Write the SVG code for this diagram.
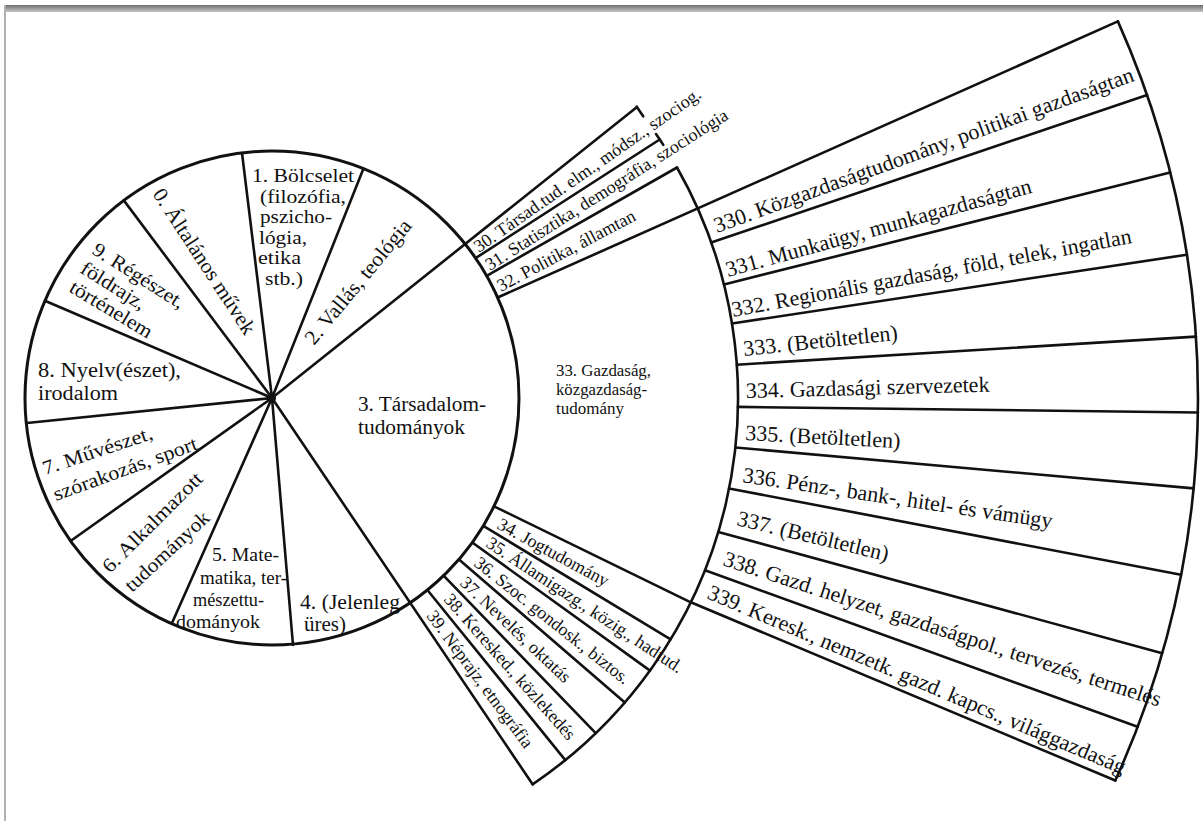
<svg xmlns="http://www.w3.org/2000/svg" width="1203" height="821" viewBox="0 0 1203 821">
<defs>
<linearGradient id="bar" x1="0" y1="0" x2="0" y2="1">
<stop offset="0" stop-color="#6f6f6f"/>
<stop offset="1" stop-color="#c4c4c4"/>
</linearGradient>
</defs>
<style>
.ln{fill:none;stroke:#111;stroke-width:2.6;stroke-linecap:round;stroke-linejoin:round}
.cir{fill:none;stroke:#111;stroke-width:3}
text{font-family:"Liberation Serif","Times New Roman",serif;fill:#111}
.c{font-size:21px}
.cb{font-size:18.5px}
.c2{font-size:20px}
.c5{font-size:18px}
.m{font-size:18px}
.g{font-size:16px}
.r{font-size:22px}
</style>
<rect x="0" y="0" width="1203" height="821" fill="#fff"/>
<rect x="4" y="5" width="1199" height="7" fill="url(#bar)"/>
<rect x="4" y="5" width="2" height="816" fill="#b0b0b0"/>

<g id="connectors">
<circle class="cir" cx="272" cy="398" r="247"/>
<path class="ln" d="M272,398 L242,153 M272,398 L363.5,168.6 M272,398 L637,107 M272,398 L532.6,784.3 M272,398 L293,645 M272,398 L172,623 M272,398 L72,540 M272,398 L27,423 M272,398 L44.9,300.7 M272,398 L123.8,200.4"/>
<circle cx="272" cy="398" r="4" fill="#111"/>
<path class="ln" d="M475.6,258.1 L659.7,139.5 M486.7,275.8 L677,167.5 M497.6,297.5 L1117.9,21.4 M494,506.3 L690.8,602.3 L1115.3,780.5 M483.3,525.9 L670.6,639.4 M472.3,542.5 L650,670.6 M459,559.4 L624.8,702.5 M443.6,575.7 L595.7,733.2 M427.4,590 L565.3,760.1"/>
<path class="ln" d="M677,167.5 A466 466 0 0 1 532.6,784.3"/>
<path class="ln" d="M636.7,106.7 A466 466 0 0 1 643.2,116.3 M656,134.1 A466 466 0 0 1 663.3,144.9"/>
<path class="ln" d="M1117.9,21.4 A926 926 0 0 1 1115.3,780.5"/>
<path class="ln" d="M711.2,242.5 L1147.1,95 M724,284.5 L1170.1,172.4 M732,323.5 L1186.9,254.7 M736.8,364.7 L1196,336.6 M737.9,406.9 L1197.9,412.5 M735.3,447.5 L1193.6,488.4 M729.1,488.5 L1181,574.7 M718.3,531.9 L1162.2,653.2 M705,570.3 L1137.6,726.8"/>
</g>

<g id="n0"><text class="c" transform="translate(152,194) rotate(56.8)" textLength="170" lengthAdjust="spacingAndGlyphs">0. Általános művek</text></g>
<g id="n1">
<text class="cb" x="252" y="182" textLength="102" lengthAdjust="spacingAndGlyphs">1. Bölcselet</text>
<text class="cb" x="260" y="202.5" textLength="86" lengthAdjust="spacingAndGlyphs">(filozófia,</text>
<text class="cb" x="260" y="223" textLength="72" lengthAdjust="spacingAndGlyphs">pszicho-</text>
<text class="cb" x="259" y="243.5" textLength="48" lengthAdjust="spacingAndGlyphs">lógia,</text>
<text class="cb" x="258" y="264" textLength="43" lengthAdjust="spacingAndGlyphs">etika</text>
<text class="cb" x="265" y="284.5" textLength="38" lengthAdjust="spacingAndGlyphs">stb.)</text>
</g>
<g id="n2"><text class="c" transform="translate(314,346) rotate(-50.5)" textLength="155" lengthAdjust="spacingAndGlyphs">2. Vallás, teológia</text></g>
<g id="n3">
<text class="c2" x="358" y="411" textLength="128" lengthAdjust="spacingAndGlyphs">3. Társadalom-</text>
<text class="c2" x="358" y="434" textLength="107" lengthAdjust="spacingAndGlyphs">tudományok</text>
</g>
<g id="n4">
<text class="c2" x="300" y="609" textLength="100" lengthAdjust="spacingAndGlyphs">4. (Jelenleg</text>
<text class="c2" x="304" y="631" textLength="42" lengthAdjust="spacingAndGlyphs">üres)</text>
</g>
<g id="n5">
<text class="c5" x="212" y="561" textLength="67" lengthAdjust="spacingAndGlyphs">5. Mate-</text>
<text class="c5" x="200" y="584" textLength="87" lengthAdjust="spacingAndGlyphs">matika, ter-</text>
<text class="c5" x="193" y="606" textLength="71" lengthAdjust="spacingAndGlyphs">mészettu-</text>
<text class="c5" x="176" y="628" textLength="84" lengthAdjust="spacingAndGlyphs">dományok</text>
</g>
<g id="n6">
<text class="c2" transform="translate(110,574) rotate(-45)" textLength="133" lengthAdjust="spacingAndGlyphs">6. Alkalmazott</text>
<text class="c2" transform="translate(132,593) rotate(-43)" textLength="108" lengthAdjust="spacingAndGlyphs">tudományok</text>
</g>
<g id="n7">
<text class="c2" transform="translate(45,475) rotate(-18.5)" textLength="115" lengthAdjust="spacingAndGlyphs">7. Művészet,</text>
<text class="c2" transform="translate(56,501) rotate(-20)" textLength="152" lengthAdjust="spacingAndGlyphs">szórakozás, sport</text>
</g>
<g id="n8">
<text class="c2" x="38" y="377" textLength="143" lengthAdjust="spacingAndGlyphs">8. Nyelv(észet),</text>
<text class="c2" x="38" y="400" textLength="80" lengthAdjust="spacingAndGlyphs">irodalom</text>
</g>
<g id="n9">
<text class="c2" transform="translate(91,253) rotate(32.5)" textLength="105" lengthAdjust="spacingAndGlyphs">9. Régészet,</text>
<text class="c2" transform="translate(79,272) rotate(32)" textLength="73" lengthAdjust="spacingAndGlyphs">földrajz,</text>
<text class="c2" transform="translate(68,291) rotate(31)" textLength="93" lengthAdjust="spacingAndGlyphs">történelem</text>
</g>

<g id="n30"><text class="m" transform="translate(479,253) rotate(-35)">30. Társad.tud. elm., módsz., szociog.</text></g>
<g id="n31"><text class="m" transform="translate(490,271) rotate(-32.5)">31. Statisztika, demográfia, szociológia</text></g>
<g id="n32"><text class="m" transform="translate(501,292) rotate(-28)">32. Politika, államtan</text></g>
<g id="n33">
<text class="g" x="556" y="376" textLength="95" lengthAdjust="spacingAndGlyphs">33. Gazdaság,</text>
<text class="g" x="556" y="395" textLength="91" lengthAdjust="spacingAndGlyphs">közgazdaság-</text>
<text class="g" x="556" y="414" textLength="68" lengthAdjust="spacingAndGlyphs">tudomány</text>
</g>
<g id="n34"><text class="m" transform="translate(496,528) rotate(28.5)">34. Jogtudomány</text></g>
<g id="n35"><text class="m" transform="translate(485,546) rotate(33.5)">35. Államigazg., közig., hadtud.</text></g>
<g id="n36"><text class="m" transform="translate(473,565) rotate(38.5)">36. Szoc. gondosk., biztos.</text></g>
<g id="n37"><text class="m" transform="translate(459,584) rotate(43.5)">37. Nevelés, oktatás</text></g>
<g id="n38"><text class="m" transform="translate(443,600) rotate(48.5)">38. Keresked., közlekedés</text></g>
<g id="n39"><text class="m" transform="translate(426,616) rotate(53.5)">39. Néprajz, etnográfia</text></g>

<g id="n330"><text class="r" transform="translate(717,233) rotate(-20)">330. Közgazdaságtudomány, politikai gazdaságtan</text></g>
<g id="n331"><text class="r" transform="translate(728,277) rotate(-15.5)">331. Munkaügy, munkagazdaságtan</text></g>
<g id="n332"><text class="r" transform="translate(733,317) rotate(-10.5)">332. Regionális gazdaság, föld, telek, ingatlan</text></g>
<g id="n333"><text class="r" transform="translate(744,356) rotate(-6)">333. (Betöltetlen)</text></g>
<g id="n334"><text class="r" transform="translate(746,398) rotate(-1.5)">334. Gazdasági szervezetek</text></g>
<g id="n335"><text class="r" transform="translate(745,440) rotate(3)">335. (Betöltetlen)</text></g>
<g id="n336"><text class="r" transform="translate(742,482) rotate(8.5)">336. Pénz-, bank-, hitel- és vámügy</text></g>
<g id="n337"><text class="r" transform="translate(736,525) rotate(13.5)">337. (Betöltetlen)</text></g>
<g id="n338"><text class="r" transform="translate(722,565) rotate(18)">338. Gazd. helyzet, gazdaságpol., tervezés, termelés</text></g>
<g id="n339"><text class="r" transform="translate(706,598) rotate(23)">339. Keresk., nemzetk. gazd. kapcs., világgazdaság</text></g>
</svg>
